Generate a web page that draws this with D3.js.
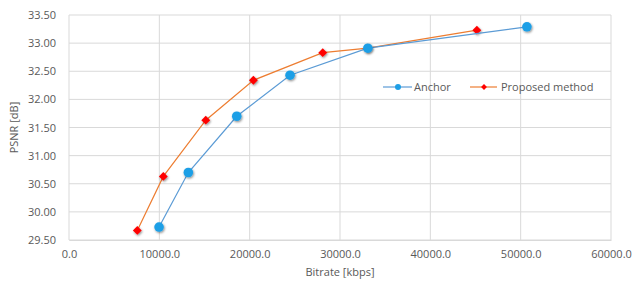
<!DOCTYPE html>
<html>
<head>
<meta charset="utf-8">
<script src="https://cdn.jsdelivr.net/npm/d3@7"></script>
<style>
  body { margin: 0; background: #fff; }
  svg text { font-family: "Open Sans", "Noto Sans", sans-serif; fill: #595959; }
</style>
</head>
<body>
<svg width="633" height="283"></svg>
<script>
// data
const anchorRate = [9970, 13210, 18570, 24470, 33080, 50690];
const anchorPsnr = [29.73, 30.70, 31.70, 32.43, 32.91, 33.29];
const proposedRate = [7560, 10440, 15140, 20410, 28090, 33080, 45150];
const proposedPsnr = [29.67, 30.63, 31.63, 32.34, 32.83, 32.91, 33.23];
const xTicks = [0, 10000, 20000, 30000, 40000, 50000, 60000];
const yTicks = [29.5, 30, 30.5, 31, 31.5, 32, 32.5, 33, 33.5];

const svg = d3.select("svg");
const plotL = 69, plotR = 611, plotT = 15, plotB = 240;

const x = d3.scaleLinear().domain([0, 60000]).range([plotL, plotR]);
const y = d3.scaleLinear().domain([29.5, 33.5]).range([plotB, plotT]);

// shadow for markers
const defs = svg.append("defs");
const f = defs.append("filter").attr("id", "sh").attr("x", "-50%").attr("y", "-50%").attr("width", "200%").attr("height", "200%");
f.append("feDropShadow").attr("dx", 0.8).attr("dy", 1.2).attr("stdDeviation", 1).attr("flood-color", "#000").attr("flood-opacity", 0.45);

// grid
svg.append("g")
  .selectAll("line")
  .data(yTicks)
  .enter()
  .append("line")
  .attr("x1", plotL).attr("x2", plotR)
  .attr("y1", d => y(d)).attr("y2", d => y(d))
  .attr("stroke", "#d9d9d9").attr("stroke-width", 1);

svg.append("g")
  .selectAll("line")
  .data(xTicks)
  .enter()
  .append("line")
  .attr("x1", d => x(d)).attr("x2", d => x(d))
  .attr("y1", plotT).attr("y2", plotB)
  .attr("stroke", "#d9d9d9").attr("stroke-width", 1);

// axis labels via d3 axes, lines hidden
const xAxis = d3.axisBottom(x).tickValues(xTicks).tickFormat(d3.format(".1f")).tickSize(0).tickPadding(10);
const yAxis = d3.axisLeft(y).tickValues(yTicks).tickFormat(d3.format(".2f")).tickSize(0).tickPadding(13);

const gx = svg.append("g").attr("transform", `translate(0,${plotB})`).call(xAxis);
const gy = svg.append("g").attr("transform", `translate(${plotL},0)`).call(yAxis);
gx.select(".domain").attr("stroke", "#d9d9d9");
gy.select(".domain").remove();
svg.selectAll(".tick text").style("font-size", "11px").attr("fill", "#595959");

// axis titles
svg.append("text")
  .attr("x", (plotL + plotR) / 2).attr("y", 276)
  .attr("text-anchor", "middle")
  .style("font-size", "11px")
  .text("Bitrate [kbps]");

svg.append("text")
  .attr("transform", `translate(18,${(plotT + plotB) / 2}) rotate(-90)`)
  .attr("text-anchor", "middle")
  .style("font-size", "11px")
  .text("PSNR [dB]");

const line = d3.line().x(d => x(d[0])).y(d => y(d[1]));

const proposed = d3.zip(proposedRate, proposedPsnr);
const anchor = d3.zip(anchorRate, anchorPsnr);

svg.append("path").datum(proposed)
  .attr("fill", "none").attr("stroke", "#ED7D31").attr("stroke-width", 1.2)
  .attr("d", line);

svg.append("g")
  .selectAll("path")
  .data(proposed)
  .enter()
  .append("path")
  .attr("d", d3.symbol(d3.symbolDiamond2, 50))
  .attr("transform", d => `translate(${x(d[0])},${y(d[1])})`)
  .attr("fill", "#FF0000")
  .attr("filter", "url(#sh)");

svg.append("path").datum(anchor)
  .attr("fill", "none").attr("stroke", "#5B9BD5").attr("stroke-width", 1.2)
  .attr("d", line);

svg.append("g")
  .selectAll("circle")
  .data(anchor)
  .enter()
  .append("circle")
  .attr("cx", d => x(d[0]))
  .attr("cy", d => y(d[1]))
  .attr("r", 4.8)
  .attr("fill", "#1E9FE6")
  .attr("filter", "url(#sh)");

// legend
const legY = 87;
const leg = svg.append("g");
leg.append("line").attr("x1", 383).attr("x2", 412).attr("y1", legY).attr("y2", legY)
  .attr("stroke", "#5B9BD5").attr("stroke-width", 1.2);
leg.append("circle").attr("cx", 398).attr("cy", legY).attr("r", 3).attr("fill", "#1E9FE6");
leg.append("text").attr("x", 414).attr("y", legY + 4).style("font-size", "11px").text("Anchor");

leg.append("line").attr("x1", 470).attr("x2", 497).attr("y1", legY).attr("y2", legY)
  .attr("stroke", "#ED7D31").attr("stroke-width", 1.2);
leg.append("path").attr("d", d3.symbol(d3.symbolDiamond2, 22))
  .attr("transform", `translate(484,${legY})`).attr("fill", "#FF0000");
leg.append("text").attr("x", 501).attr("y", legY + 4).style("font-size", "11px").text("Proposed method");
</script>
</body>
</html>
